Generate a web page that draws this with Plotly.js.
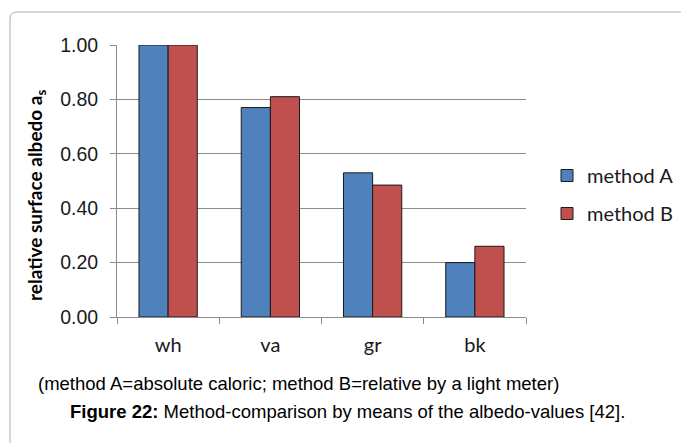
<!DOCTYPE html>
<html>
<head>
<meta charset="utf-8">
<script src="https://cdn.plot.ly/plotly-3.0.1.min.js"></script>
<style>html,body{margin:0;padding:0;background:#fff;}#c{width:681px;height:443px;}</style>
</head>
<body>
<div id="c"></div>
<script>
const categories = ["wh", "va", "gr", "bk"];
const methodA = [1.00, 0.77, 0.53, 0.20];
const methodB = [1.00, 0.81, 0.485, 0.26];
const seriesNames = ["method A", "method B"];
const yTicks = [0, 0.2, 0.4, 0.6, 0.8, 1.0];
const yTickLabels = ["0.00", "0.20", "0.40", "0.60", "0.80", "1.00"];

const L = 117, R = 526, T = 45, B = 317;
const pw = R - L, ph = B - T;
const px = v => (v - L) / pw;
const py = v => (B - v) / ph;

const traces = [
  {type: "bar", name: seriesNames[0], x: categories, y: methodA,
   marker: {color: "#4F81BD", line: {color: "#1a1a1a", width: 1}}, legendgroup: "a"},
  {type: "bar", name: seriesNames[1], x: categories, y: methodB,
   marker: {color: "#C0504D", line: {color: "#1a1a1a", width: 1}}, legendgroup: "b"}
];

const r = 7;
const x0 = px(10), x1 = px(700), y0 = py(460), y1 = py(12);
const rx = r / pw, ry = r / ph;
const borderPath = `M ${x0},${y0} L ${x0},${y1 - ry} Q ${x0},${y1} ${x0 + rx},${y1} L ${x1},${y1}`;

const layout = {
  width: 681, height: 443,
  margin: {l: L, r: 681 - R, t: T, b: 443 - B, autoexpand: false},
  paper_bgcolor: "#fff", plot_bgcolor: "#fff",
  barmode: "group", bargap: 0.43, bargroupgap: 0,
  showlegend: true,
  legend: {x: px(547), y: py(156), xanchor: "left", yanchor: "top",
           font: {family: "Lato, Carlito, sans-serif", size: 20, color: "#1a1a1a"},
           traceorder: "grouped", tracegroupgap: 9, bgcolor: "rgba(0,0,0,0)"},
  xaxis: {type: "category", showgrid: false, showline: true, linecolor: "#8c8c8c", linewidth: 1,
          ticks: "outside", tickson: "boundaries", ticklen: 6, tickcolor: "#8c8c8c",
          ticklabelstandoff: 10,
          tickfont: {family: "Lato, Carlito, sans-serif", size: 20, color: "#1a1a1a"},
          fixedrange: true},
  yaxis: {range: [0, 1], tickvals: yTicks, ticktext: yTickLabels, showgrid: true,
          gridcolor: "#8c8c8c", gridwidth: 1, showline: true, linecolor: "#8c8c8c",
          ticks: "outside", ticklen: 6, tickcolor: "#8c8c8c", zeroline: false,
          ticklabelstandoff: 8,
          tickfont: {family: "Liberation Sans, Arial, sans-serif", size: 19.5, color: "#1a1a1a"},
          fixedrange: true},
  shapes: [{type: "path", xref: "paper", yref: "paper", path: borderPath,
            line: {color: "#b0b0b0", width: 1}, layer: "below"}],
  annotations: [
    {xref: "paper", yref: "paper", x: px(36), y: py(195), xanchor: "center", yanchor: "middle",
     textangle: -90, showarrow: false,
     text: "<b>relative surface albedo a<sub>s</sub></b>",
     font: {family: "Lato, Carlito, sans-serif", size: 19, color: "#000"}},
    {xref: "paper", yref: "paper", x: px(298), y: py(383), xanchor: "center", yanchor: "middle",
     showarrow: false,
     text: "(method A=absolute caloric; method B=relative by a light meter)",
     font: {family: "Liberation Sans, Arial, sans-serif", size: 18.5, color: "#000"}},
    {xref: "paper", yref: "paper", x: px(347), y: py(412), xanchor: "center", yanchor: "middle",
     showarrow: false,
     text: "<b>Figure 22:</b> Method-comparison by means of the albedo-values [42].",
     font: {family: "Liberation Sans, Arial, sans-serif", size: 18.5, color: "#000"}}
  ]
};

Plotly.newPlot("c", traces, layout, {displayModeBar: false, staticPlot: true});
</script>
</body>
</html>
